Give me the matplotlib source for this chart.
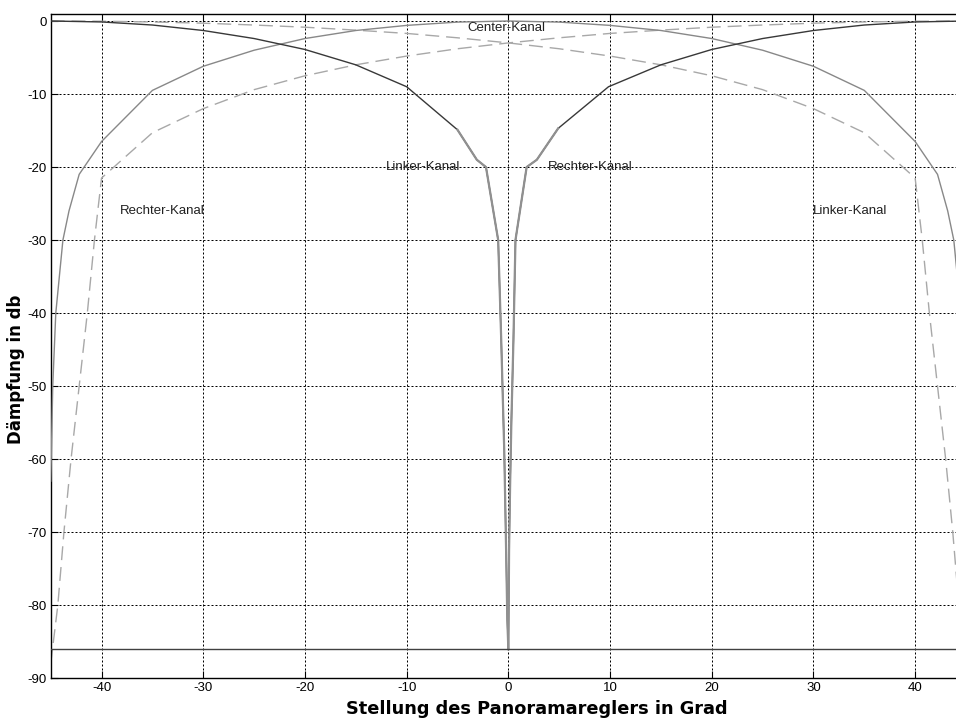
import matplotlib
matplotlib.use("Agg")
import matplotlib.pyplot as plt

plt.rcParams['font.family'] = ['Liberation Sans', 'DejaVu Sans']
plt.rcParams['axes.unicode_minus'] = False

# Linker-Kanal (LCR), -45 .. 0
lcr_left_x = [-45, -40, -35, -30, -25, -20, -15, -10, -5, -3.1, -2.2, -1.0, -0.7, -0.4, -0.2, -0.1, 0]
lcr_left_db = [0, -0.13, -0.55, -1.3, -2.4, -3.9, -6.0, -9.0, -14.9, -19.0, -20.0, -30.0, -43.7, -59.0, -74.0, -82.0, -86.0]

# Rechter-Kanal (LCR), 0 .. 45
lcr_right_x = [0, 0.03, 0.07, 0.17, 0.3, 0.5, 0.7, 1.8, 2.8, 4.9, 9.85, 15, 20, 25, 30, 35, 40, 45]
lcr_right_db = [-86.0, -81.0, -72.5, -63.8, -54.7, -43.7, -30.0, -20.0, -19.0, -14.7, -9.0, -6.0, -3.9, -2.4, -1.3, -0.55, -0.13, 0]

# Center-Kanal
center_x = [-45, -44.9, -44.8, -44.5, -43.8, -43.2, -42.2, -40, -35, -30, -25, -20, -15, -10, -5, 0,
            5, 10, 15, 20, 25, 30, 35, 40, 42.2, 43.2, 43.8, 44.5, 44.8, 44.9, 45]
center_db = [-63, -57, -50, -40, -30, -26, -21, -16.5, -9.5, -6.2, -4.0, -2.4, -1.3, -0.6, -0.15, 0,
             -0.15, -0.6, -1.3, -2.4, -4.0, -6.2, -9.5, -16.5, -21, -26, -30, -40, -50, -57, -63]

# Stereo Rechter-Kanal (gestrichelt)
st_right_x = [-45, -44.3, -43.7, -43.0, -42.2, -41.4, -40.7, -40, -35, -30, -25, -20, -15, -10, -5, 0,
              5, 10, 15, 20, 25, 30, 35, 40, 45]
st_right_db = [-88, -80, -70, -60, -50, -40, -30, -21.5, -15.3, -12.0, -9.4, -7.5, -6.0, -4.8, -3.8, -3.0,
               -2.3, -1.7, -1.25, -0.85, -0.55, -0.3, -0.13, -0.03, 0]

# Stereo Linker-Kanal (gestrichelt)
st_left_x = [-45, -40, -35, -30, -25, -20, -15, -10, -5, 0, 5, 10, 15, 20, 25, 30, 35,
             40, 40.7, 41.4, 42.2, 43.0, 43.7, 44.3, 45]
st_left_db = [0, -0.03, -0.13, -0.3, -0.55, -0.85, -1.25, -1.7, -2.3, -3.0, -3.8, -4.8, -6.0, -7.5, -9.4, -12.0, -15.3,
              -21.5, -30, -40, -50, -60, -70, -80, -88]

floor_db = -86

x_ticks = [-40, -30, -20, -10, 0, 10, 20, 30, 40]
y_ticks = [0, -10, -20, -30, -40, -50, -60, -70, -80, -90]

fig = plt.figure(figsize=(9.56, 7.19), dpi=100)
ax = fig.add_axes([50.7 / 956, 40.7 / 719, 915.3 / 956, 664.6 / 719])

grid_style = dict(color='black', lw=0.72, linestyle=(0, (2, 2)), zorder=1)
for xt in x_ticks:
    ax.axvline(xt, **grid_style)
for yt in y_ticks[:-1]:
    ax.axhline(yt, **grid_style)

dash = (0, (10, 5))
ax.plot(st_right_x, st_right_db, color='#a8a8a8', lw=1.0, linestyle=dash, zorder=2)
ax.plot(st_left_x, st_left_db, color='#a8a8a8', lw=1.0, linestyle=dash, zorder=2)
ax.plot(center_x, center_db, color='#888888', lw=1.0, zorder=3)
ax.plot(lcr_left_x, lcr_left_db, color='#383838', lw=1.0, zorder=4)
ax.plot(lcr_right_x, lcr_right_db, color='#383838', lw=1.0, zorder=4)
# steiler Teil in der Mitte wirkt heller/dicker
ax.plot(lcr_left_x[8:], lcr_left_db[8:], color='#909090', lw=1.6, zorder=4)
ax.plot(lcr_right_x[:10], lcr_right_db[:10], color='#909090', lw=1.6, zorder=4)
ax.axhline(floor_db, color='#404040', lw=1.0, zorder=4)

txt = dict(fontsize=9.5, color='#202020', ha='center', va='center', zorder=5)
ax.text(-0.2, -1.0, 'Center-Kanal', **txt)
ax.text(-8.4, -20, 'Linker-Kanal', **txt)
ax.text(8.1, -20, 'Rechter-Kanal', **txt)
ax.text(-34.0, -26, 'Rechter-Kanal', **txt)
ax.text(33.6, -26, 'Linker-Kanal', **txt)

ax.set_xlim(-45, 45)
ax.set_ylim(-90, 1)
ax.set_xticks(x_ticks)
ax.set_yticks(y_ticks)
ax.tick_params(direction='in', length=5, width=0.8, labelsize=9.5, top=True, right=True, pad=3)
for s in ax.spines.values():
    s.set_linewidth(1.0)
    s.set_color('black')

fig.text(537 / 956, 1 - 709 / 719, 'Stellung des Panoramareglers in Grad', family='DejaVu Sans',
         fontweight='bold', fontsize=12.8, ha='center', va='center')
fig.text(16 / 956, 1 - 369 / 719, 'Dämpfung in db', family='DejaVu Sans',
         fontweight='bold', fontsize=12, ha='center', va='center', rotation=90)

fig.savefig('out.png', dpi=100)
